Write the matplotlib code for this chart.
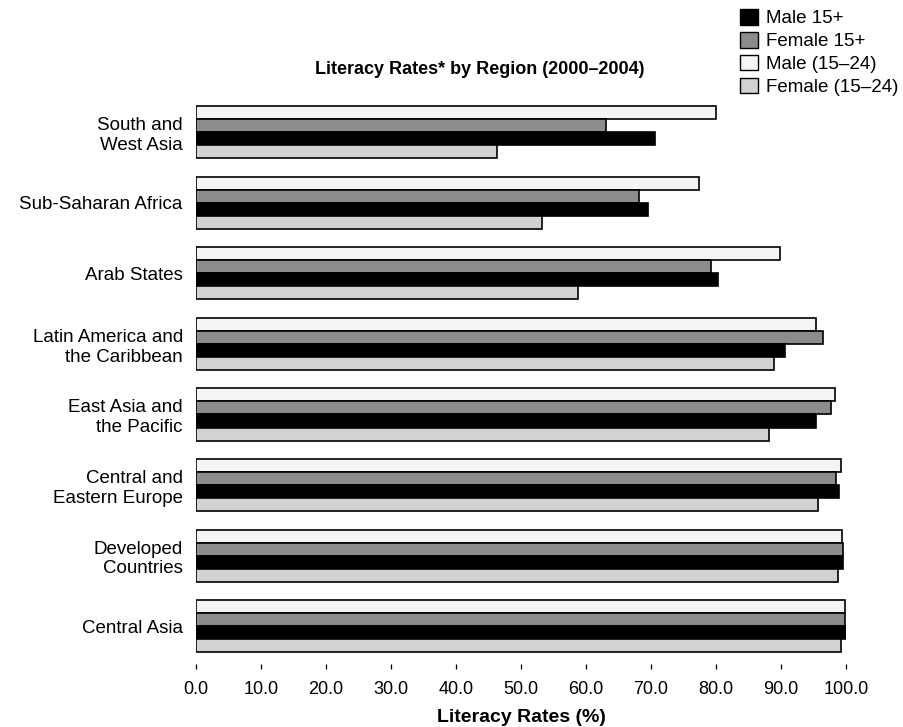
#Horizontal bar chart of literacy rates by region (2000-2004)

import numpy as np
import matplotlib.pyplot as plt
from matplotlib.patches import Patch

plt.rcParams['font.family'] = ['Liberation Sans', 'DejaVu Sans']

#Data (top to bottom)
regions = ['South and\nWest Asia', 'Sub-Saharan Africa', 'Arab States',
           'Latin America and\nthe Caribbean', 'East Asia and\nthe Pacific',
           'Central and\nEastern Europe', 'Developed\nCountries', 'Central Asia']
male15 = [70.6, 69.5, 80.3, 90.6, 95.4, 98.9, 99.5, 100.0]
female15 = [63.1, 68.2, 79.3, 96.4, 97.7, 98.5, 99.6, 99.9]
male1524 = [80.0, 77.4, 89.8, 95.4, 98.3, 99.2, 99.4, 99.8]
female1524 = [46.3, 53.2, 58.8, 88.9, 88.2, 95.7, 98.8, 99.2]
xticks = np.arange(0, 101, 10)

#Bar colours (halftone greys of the print)
cMale15 = '#000000'
cFemale15 = '#8c8c8c'
cMale1524 = '#f4f4f4'
cFemale1524 = '#d2d2d2'

W, H = 904, 727
fig = plt.figure(figsize=(W/100, H/100), dpi=100)
ax = fig.add_axes([196/W, 1-661.5/H, 650/W, 564.6/H])

y = np.arange(len(regions))
h = 0.185
ax.barh(y-1.5*h, male1524, height=h, color=cMale1524, edgecolor='black', linewidth=1.2)
ax.barh(y-0.5*h, female15, height=h, color=cFemale15, edgecolor='black', linewidth=1.2)
ax.barh(y+0.5*h, male15, height=h, color=cMale15, edgecolor='black', linewidth=1.2)
ax.barh(y+1.5*h, female1524, height=h, color=cFemale1524, edgecolor='black', linewidth=1.2)

ax.set_xlim(0, 100)
ax.set_ylim(len(regions)-0.5, -0.5)

#No frame; small detached tick marks on x only
for s in ax.spines.values():
    s.set_visible(False)
ax.spines['bottom'].set_position(('outward', 2))
ax.set_xticks(xticks, ['%.1f' % v for v in xticks])
ax.set_yticks(y, regions)
ax.tick_params(axis='x', length=3.8, width=0.9, pad=8, labelsize=13)
ax.tick_params(axis='y', length=0, pad=9.5, labelsize=13.5)

#Title and axis label
fig.text(480/W, 1-70/H, 'Literacy Rates* by Region (2000–2004)',
         ha='center', va='center', fontsize=13, fontweight='bold')
fig.text(521/W, 1-717/H, 'Literacy Rates (%)',
         ha='center', va='center', fontsize=14, fontweight='bold')

#Legend in the top right corner
handles = [Patch(facecolor=cMale15, edgecolor='black', label='Male 15+'),
           Patch(facecolor=cFemale15, edgecolor='black', label='Female 15+'),
           Patch(facecolor=cMale1524, edgecolor='black', label='Male (15–24)'),
           Patch(facecolor=cFemale1524, edgecolor='black', label='Female (15–24)')]
fig.legend(handles=handles, loc='upper left', bbox_to_anchor=(740/W, 1-9/H),
           frameon=False, fontsize=13.5, handlelength=0.95, handleheight=0.9,
           handletextpad=0.45, labelspacing=0.25, borderpad=0, borderaxespad=0)

plt.savefig('out.png', dpi=100)
